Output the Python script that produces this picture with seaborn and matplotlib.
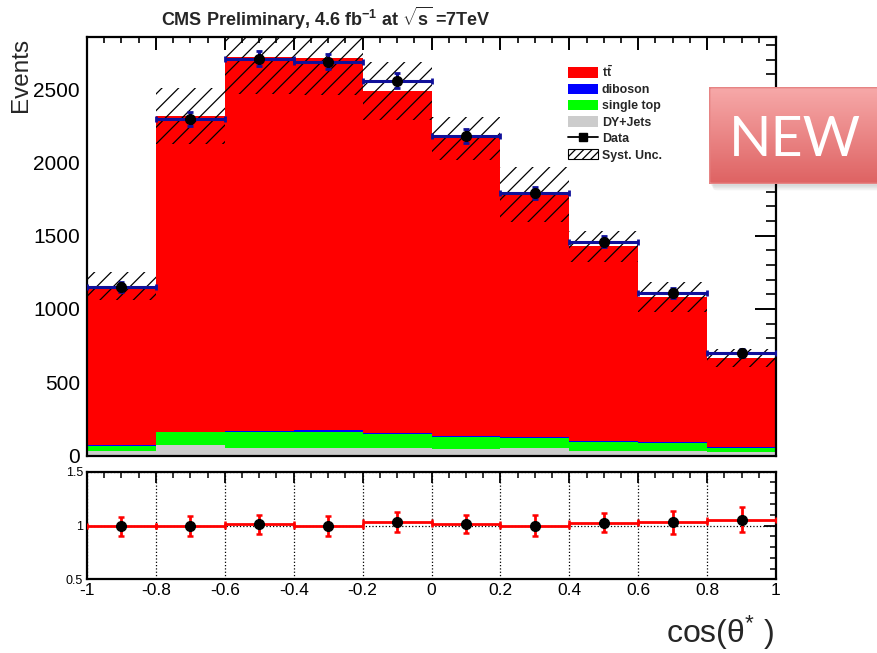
import numpy as np
import pandas as pd
import matplotlib
matplotlib.use("Agg")
import matplotlib.pyplot as plt
import seaborn as sns
from matplotlib.patches import Patch, FancyBboxPatch
from matplotlib.lines import Line2D
from matplotlib.ticker import MultipleLocator, FixedLocator

# ---------------- data ----------------
bin_edges = [-1.0, -0.8, -0.6, -0.4, -0.2, 0.0, 0.2, 0.4, 0.6, 0.8, 1.0]
bin_centers = [-0.9, -0.7, -0.5, -0.3, -0.1, 0.1, 0.3, 0.5, 0.7, 0.9]
x_tick_labels = ["-1", "-0.8", "-0.6", "-0.4", "-0.2", "0", "0.2", "0.4", "0.6", "0.8", "1"]
ttbar = [1082, 2151, 2555, 2542, 2334, 2027, 1651, 1328, 990, 606]
diboson = [5, 5, 6, 10, 8, 7, 7, 4, 6, 6]
single_top = [35, 87, 109, 113, 91, 86, 72, 64, 53, 32]
dy_jets = [33, 72, 50, 50, 54, 43, 50, 31, 31, 22]
syst_unc = [95, 193, 253, 253, 200, 146, 188, 108, 102, 63]
data_vals = [1148, 2296, 2707, 2687, 2557, 2182, 1789, 1459, 1109, 700]
data_err = [34, 48, 52, 52, 51, 47, 42, 38, 33, 26]
ratio_vals = [0.995, 0.995, 1.01, 0.995, 1.03, 1.012, 0.997, 1.025, 1.03, 1.055]
ratio_err = [0.088, 0.092, 0.09, 0.094, 0.093, 0.082, 0.098, 0.088, 0.107, 0.113]
process_names = ["ttbar", "diboson", "single top", "DY+Jets"]
process_colors = ["#FF0000", "#0000FF", "#00FF00", "#CCCCCC"]

# ---------------- style ----------------
sns.set_theme(style="white")
plt.rcParams['font.family'] = ['Liberation Sans', 'DejaVu Sans']
plt.rcParams['mathtext.fontset'] = 'custom'
plt.rcParams['mathtext.rm'] = 'Liberation Sans'
plt.rcParams['mathtext.it'] = 'Liberation Sans:italic'
plt.rcParams['mathtext.bf'] = 'Liberation Sans:bold'
plt.rcParams['hatch.linewidth'] = 0.9
plt.rcParams['axes.linewidth'] = 1.6

W, H = 877, 653
fig = plt.figure(figsize=(W / 100, H / 100), dpi=100)

def fx(px):
    return px / W

def fy(py):
    return 1 - py / H

ax = fig.add_axes([fx(87), fy(455.6), fx(776) - fx(87), fy(37) - fy(455.6)])
axr = fig.add_axes([fx(87), fy(579.3), fx(776) - fx(87), fy(471.7) - fy(579.3)])

# ---------------- stacked MC via seaborn ----------------
rows = []
series = [ttbar, diboson, single_top, dy_jets]
for name, vals in zip(process_names, series):
    for c, v in zip(bin_centers, vals):
        rows.append({"x": c, "w": v, "process": name})
df = pd.DataFrame(rows)
sns.histplot(data=df, x="x", weights="w", hue="process", hue_order=process_names,
             palette=dict(zip(process_names, process_colors)), multiple="stack",
             bins=bin_edges, element="bars", linewidth=0, alpha=1, legend=False, ax=ax)

# total MC and systematic band
total = np.array(ttbar) + np.array(diboson) + np.array(single_top) + np.array(dy_jets)
unc = np.array(syst_unc)
ax.bar(bin_centers, 2 * unc, bottom=total - unc, width=0.2, fill=False,
       hatch="//", edgecolor="black", linewidth=0, zorder=3)

# data
ax.errorbar(bin_centers, data_vals, xerr=0.1, yerr=data_err, fmt="o", color="black",
            ecolor="#10109A", elinewidth=2.2, capsize=2, capthick=2, markersize=7, zorder=5)

ax.set_xlim(-1, 1)
ax.set_ylim(0, 2855)
ax.set_xlabel("")
ax.set_ylabel("")
ax.xaxis.set_major_locator(FixedLocator(bin_edges))
ax.xaxis.set_minor_locator(MultipleLocator(0.05))
ax.yaxis.set_major_locator(MultipleLocator(500))
ax.yaxis.set_minor_locator(MultipleLocator(100))
ax.tick_params(axis="both", which="both", direction="in", top=True, right=True, colors="black")
ax.tick_params(axis="y", which="major", length=15, width=1.4, labelsize=15, pad=5)
ax.tick_params(axis="y", which="minor", length=7.5, width=1.2)
ax.tick_params(axis="x", which="major", length=9, width=1.4, labelbottom=False)
ax.tick_params(axis="x", which="minor", length=4.5, width=1.2)
for s in ax.spines.values():
    s.set_visible(True)
    s.set_color("black")
    s.set_linewidth(1.6)

# legend
handles = [
    Patch(facecolor="#FF0000", edgecolor="none"),
    Patch(facecolor="#0000FF", edgecolor="none"),
    Patch(facecolor="#00FF00", edgecolor="none"),
    Patch(facecolor="#CCCCCC", edgecolor="none"),
    Line2D([0], [0], color="black", marker="s", markersize=6, linewidth=1.3),
    Patch(facecolor="white", edgecolor="black", hatch="////", linewidth=0.8),
]
labels = [r"$\mathbf{t\bar{t}}$", "diboson", "single top", "DY+Jets", "Data", "Syst. Unc."]
leg = ax.legend(handles, labels, loc="upper left", bbox_to_anchor=(fx(568), fy(64)),
                bbox_transform=fig.transFigure, frameon=False,
                prop={"weight": "bold", "size": 8.9}, handlelength=2.4, handleheight=0.9,
                handletextpad=0.35, labelspacing=0.32, borderpad=0, borderaxespad=0)

# ---------------- ratio panel ----------------
axr.errorbar(bin_centers, ratio_vals, xerr=0.1, yerr=ratio_err, fmt="o", color="black",
             ecolor="#FF0000", elinewidth=2, capsize=2, capthick=1.8, markersize=7, zorder=5)
axr.set_xlim(-1, 1)
axr.set_ylim(0.5, 1.5)
axr.xaxis.set_major_locator(FixedLocator(bin_edges))
axr.xaxis.set_minor_locator(MultipleLocator(0.05))
axr.yaxis.set_major_locator(FixedLocator([0.5, 1.0, 1.5]))
axr.yaxis.set_minor_locator(MultipleLocator(0.1))
axr.set_yticklabels(["0.5", "1", "1.5"])
axr.set_xticklabels(x_tick_labels)
axr.grid(True, which="major", color="black", linestyle=":", linewidth=0.9)
axr.tick_params(axis="both", which="both", direction="in", top=True, right=True, colors="black")
axr.tick_params(axis="x", which="major", length=8, width=1.3, labelsize=12.5, pad=3)
axr.tick_params(axis="x", which="minor", length=4.5, width=1.1)
axr.tick_params(axis="y", which="major", length=9, width=1.3, labelsize=9, pad=3)
axr.tick_params(axis="y", which="minor", length=4.5, width=1.1)
for s in axr.spines.values():
    s.set_visible(True)
    s.set_color("black")
    s.set_linewidth(1.6)
axr.set_xlabel("")
axr.set_ylabel("")

# ---------------- text ----------------
fig.text(fx(326), fy(18), r"CMS Preliminary, 4.6 fb$^{\mathbf{-1}}$ at $\mathbf{\sqrt{s}}$ =7TeV",
         ha="center", va="center", fontsize=13, fontweight="bold")
fig.text(fx(21), fy(75), "Events", rotation=90, ha="center", va="center", fontsize=17.5)
fig.text(fx(774), fy(643), r"cos(θ${}^{*}$ )", ha="right", va="baseline", fontsize=23)

# ---------------- NEW badge ----------------
bx0, by0, bx1, by1 = 709, 87, 900, 184
bax = fig.add_axes([fx(bx0), fy(by1), fx(bx1) - fx(bx0), fy(by0) - fy(by1)])
bax.set_xlim(0, 1)
bax.set_ylim(0, 1)
bax.axis("off")
for k, a in enumerate([0.05, 0.05, 0.05]):
    sh = FancyBboxPatch((0.01 + 0.006 * k, -0.025 - 0.02 * k), 0.99, 1.0,
                        boxstyle="round,pad=0,rounding_size=0.02",
                        transform=bax.transAxes, facecolor="#000000", alpha=a,
                        edgecolor="none", clip_on=False, zorder=0)
    bax.add_patch(sh)
grad = np.linspace(0, 1, 256).reshape(-1, 1)
top_c = np.array([247, 170, 170]) / 255
bot_c = np.array([222, 98, 98]) / 255
img = top_c[None, None, :] * (1 - grad[:, :, None]) + bot_c[None, None, :] * grad[:, :, None]
im = bax.imshow(img, extent=(0, 1, 0, 1), origin="upper", aspect="auto", zorder=1)
box = FancyBboxPatch((0.0, 0.0), 1.0, 1.0, boxstyle="round,pad=0,rounding_size=0.02",
                     transform=bax.transAxes, facecolor="none", edgecolor="#E68484",
                     linewidth=2.0, zorder=2)
bax.add_patch(box)
im.set_clip_path(box)
fig.text(fx(795), fy(140), "NEW", ha="center", va="center", color="white",
         fontsize=40, family=["Lato", "DejaVu Sans"])

fig.savefig("out.png", dpi=100)
